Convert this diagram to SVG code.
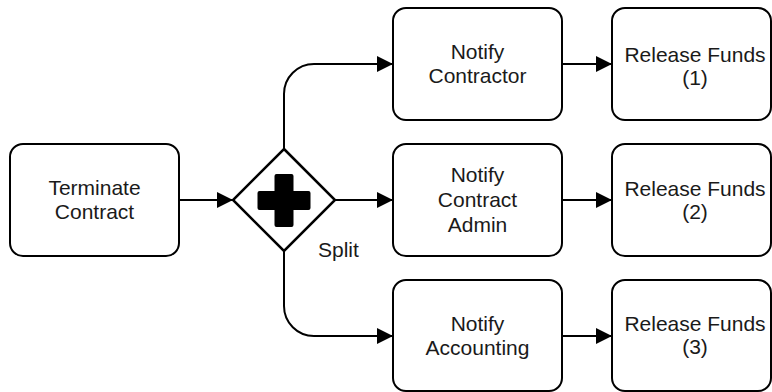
<svg xmlns="http://www.w3.org/2000/svg" width="772" height="392" viewBox="0 0 772 392">
<defs>
<marker id="arr" markerUnits="userSpaceOnUse" markerWidth="16" markerHeight="16" refX="16" refY="8" orient="auto">
<path d="M0,0 L16,8 L0,16 Z" fill="#000"/>
</marker>
<style>
.box{fill:#fff;stroke:#000;stroke-width:2}
.lbl{font-family:"Liberation Sans",Arial,sans-serif;font-size:21px;fill:#1a1a1a;text-anchor:middle}
.edge{fill:none;stroke:#000;stroke-width:2;marker-end:url(#arr)}
</style>
</defs>
<rect width="772" height="392" fill="#fff"/>
<g id="connectors">
<path class="edge" d="M179,200 H233"/>
<path class="edge" d="M335,200 H393"/>
<path class="edge" d="M284,149 V94 A30,30 0 0 1 314,64 H393"/>
<path class="edge" d="M284,251 V306 A30,30 0 0 0 314,336 H393"/>
<path class="edge" d="M562,64 H612"/>
<path class="edge" d="M562,200 H612"/>
<path class="edge" d="M562,336 H612"/>
</g>
<g id="terminate">
<rect class="box" x="10" y="144" width="169" height="112" rx="13"/>
<text class="lbl" x="94.5" y="195">Terminate</text>
<text class="lbl" x="94.5" y="219">Contract</text>
</g>
<g id="split">
<path d="M284,149 L335,200 L284,251 L233,200 Z" fill="#fff" stroke="#000" stroke-width="2.5" stroke-linejoin="miter"/>
<path d="M276.5,174 H291.5 Q293.5,174 293.5,176 V191 H308.5 Q310.5,191 310.5,193 V208 Q310.5,210 308.5,210 H293.5 V225 Q293.5,227 291.5,227 H276.5 Q274.5,227 274.5,225 V210 H259.5 Q257.5,210 257.5,208 V193 Q257.5,191 259.5,191 H274.5 V176 Q274.5,174 276.5,174 Z" fill="#000"/>
<text class="lbl" x="318" y="257" style="text-anchor:start">Split</text>
</g>
<g id="notify-contractor">
<rect class="box" x="393" y="8" width="169" height="112" rx="13"/>
<text class="lbl" x="477.5" y="58.5">Notify</text>
<text class="lbl" x="477.5" y="83">Contractor</text>
</g>
<g id="notify-admin">
<rect class="box" x="393" y="144" width="169" height="112" rx="13"/>
<text class="lbl" x="477.5" y="182">Notify</text>
<text class="lbl" x="477.5" y="207">Contract</text>
<text class="lbl" x="477.5" y="232">Admin</text>
</g>
<g id="notify-accounting">
<rect class="box" x="393" y="280" width="169" height="111" rx="13"/>
<text class="lbl" x="477.5" y="331">Notify</text>
<text class="lbl" x="477.5" y="355">Accounting</text>
</g>
<g id="release-1">
<rect class="box" x="612" y="8" width="159" height="112" rx="13"/>
<text class="lbl" x="695" y="62">Release Funds</text>
<text class="lbl" x="695" y="85">(1)</text>
</g>
<g id="release-2">
<rect class="box" x="612" y="144" width="159" height="112" rx="13"/>
<text class="lbl" x="695" y="196">Release Funds</text>
<text class="lbl" x="695" y="219">(2)</text>
</g>
<g id="release-3">
<rect class="box" x="612" y="280" width="159" height="111" rx="13"/>
<text class="lbl" x="695" y="331">Release Funds</text>
<text class="lbl" x="695" y="354">(3)</text>
</g>
</svg>
